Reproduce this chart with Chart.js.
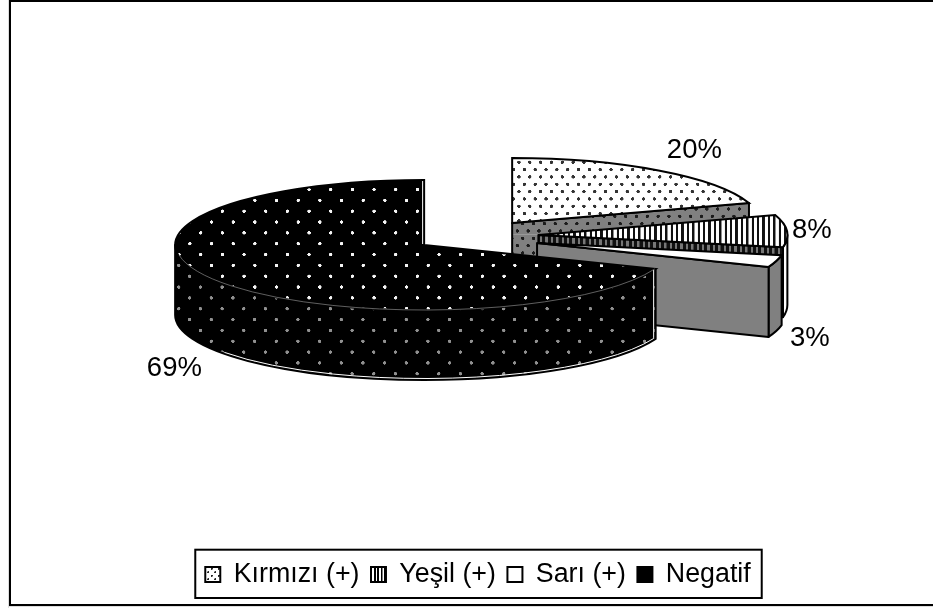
<!DOCTYPE html>
<html lang="tr">
<head>
  <meta charset="UTF-8" />
  <title>Pasta grafik</title>
  <script src="https://cdn.jsdelivr.net/npm/chart.js"></script>
  <style>
    html, body { margin: 0; background: #fff; }
    canvas { display: block; }
  </style>
</head>
<body>
  <canvas id="pie" width="933" height="608"></canvas>

  <script>
    const categories = ["Kırmızı (+)", "Yeşil (+)", "Sarı (+)", "Negatif"];
    const percents = [20, 8, 3, 69];
    const percentLabels = ["20%", "8%", "3%", "69%"];

    // layout of the tilted pie
    const FONT = "Liberation Sans, Arial, sans-serif";
    const LABEL_SIZE = 27.5;
    const LEGEND_SIZE = 26.8;
    const centre = { x: 476, y: 236 };
    const radius = 249;
    const squash = 0.261;
    const explode = 61.5;
    const depth = 70;
    const sliceShift = [[0, 0], [1, 0], [2, 2.5], [-1, 0]];
    const labelRadius = [310, 274, 284, 302];
    const labelNudge = [-7, 0, 4.5, 9];

    // tiles are painted at a higher resolution and scaled back, so the
    // spacing can be fractional. tilted ones undo the squash of the top face
    function makePattern(w, h, res, paint, tilted) {
      const c = document.createElement("canvas");
      c.width = Math.round(w * res); c.height = Math.round(h * res);
      const g = c.getContext("2d");
      g.scale(res, res);
      paint(g, w, h);
      const p = g.createPattern(c, "repeat");
      let m = new DOMMatrix().scale(1 / res, 1 / res);
      if (tilted) m = new DOMMatrix().scale(1, 1 / squash).multiply(m);
      p.setTransform(m);
      return p;
    }
    function dots(bg, fg, r) {
      return (g, w, h) => {
        g.fillStyle = bg; g.fillRect(0, 0, w, h);
        g.fillStyle = fg;
        [[w / 4, h / 4], [3 * w / 4, 3 * h / 4]].forEach(([x, y]) => {
          g.beginPath(); g.arc(x, y, r, 0, Math.PI * 2); g.fill();
        });
      };
    }
    function stripes(bg, fg, bar) {
      return (g, w, h) => {
        g.fillStyle = bg; g.fillRect(0, 0, w, h);
        g.fillStyle = fg; g.fillRect(0, 0, bar, h);
      };
    }

    const topFills = [
      makePattern(10.83, 14.6, 6, dots("#fff", "#333", 1.7), true),
      makePattern(5.4, 6, 5, stripes("#fff", "#111", 2.3), true),
      "#fff",
      makePattern(21.67, 21.67, 6, dots("#000", "#f4f4f4", 1.7), true)
    ];
    const faceFills = [
      makePattern(10.83, 14.6, 6, dots("#808080", "#1c1c1c", 1.7)),
      makePattern(5.4, 6, 5, stripes("#111", "#777", 2.3)),
      "#808080",
      makePattern(21.67, 21.67, 6, dots("#000", "#909090", 1.7))
    ];
    const rimFills = [faceFills[0], "#fff", faceFills[2], faceFills[3]];
    const legendFills = [
      makePattern(7, 7, 4, dots("#fff", "#222", 1)),
      makePattern(3.4, 4, 5, stripes("#fff", "#000", 1.7)),
      "#fff",
      makePattern(14, 14, 4, dots("#000", "#000", 0.5))
    ];

    function apexOf(arc, index) {
      const mid = (arc.startAngle + arc.endAngle) / 2;
      return {
        x: centre.x + explode * Math.cos(mid) + sliceShift[index][0],
        y: centre.y + explode * Math.sin(mid) * squash + sliceShift[index][1]
      };
    }

    // side walls: the radial face and the rim that look at the viewer
    function drawWalls(ctx, arc, index) {
      const a = apexOf(arc, index), ry = radius * squash;
      const s = Math.max(arc.startAngle, 0), e = Math.min(arc.endAngle, Math.PI);
      ctx.save();
      ctx.strokeStyle = "#000";
      ctx.lineWidth = 2;
      ctx.lineJoin = "round";
      if (e > s) {
        ctx.fillStyle = rimFills[index];
        ctx.beginPath();
        ctx.ellipse(a.x, a.y, radius, ry, 0, s, e);
        ctx.ellipse(a.x, a.y + depth, radius, ry, 0, e, s, true);
        ctx.closePath();
        ctx.fill(); ctx.stroke();
      }
      if (Math.cos(arc.endAngle) > 0.01) {
        const ex = a.x + radius * Math.cos(arc.endAngle);
        const ey = a.y + ry * Math.sin(arc.endAngle);
        ctx.fillStyle = faceFills[index];
        ctx.beginPath();
        ctx.moveTo(a.x, a.y);
        ctx.lineTo(ex, ey);
        ctx.lineTo(ex, ey + depth);
        ctx.lineTo(a.x, a.y + depth);
        ctx.closePath();
        ctx.fill(); ctx.stroke();
      }
      ctx.restore();
    }

    // the black slice only shows its edges as thin light lines
    function drawHighlights(ctx, arc, index) {
      const a = apexOf(arc, index), ry = radius * squash;
      const s = arc.startAngle;
      const sx = a.x + radius * Math.cos(s), sy = a.y + ry * Math.sin(s);
      ctx.save();
      ctx.strokeStyle = "#fff";
      ctx.lineWidth = 1;
      ctx.beginPath();
      ctx.moveTo(sx - 2, sy + 1);
      ctx.lineTo(sx - 2, sy + depth - 1);
      ctx.ellipse(a.x, a.y + depth, radius - 2, ry - 1.5, 0, s, Math.PI * 0.8);
      ctx.moveTo(a.x - 1.5, a.y - ry + 1);
      ctx.lineTo(a.x - 1.5, a.y - 1);
      ctx.stroke();
      ctx.strokeStyle = "#888";
      ctx.lineWidth = 0.7;
      ctx.beginPath();
      ctx.ellipse(a.x, a.y, radius - 1, ry, 0, s, Math.PI * 0.95);
      ctx.stroke();
      ctx.restore();
    }

    const tiltedPie = {
      id: "tiltedPie",
      afterDatasetsUpdate(chart) {
        chart.getDatasetMeta(0).data.forEach((arc, i) => {
          if (arc.tilted) return;
          arc.tilted = true;
          const flatDraw = arc.draw;
          arc.draw = function (ctx, area) {
            const a = apexOf(this, i);
            drawWalls(ctx, this, i);
            ctx.save();
            ctx.translate(a.x, a.y);
            ctx.scale(1, squash);
            ctx.translate(-this.x, -this.y);
            flatDraw.call(this, ctx, area);
            ctx.restore();
            // outline is stroked flat so the pen is not squashed
            ctx.save();
            ctx.beginPath();
            ctx.moveTo(a.x, a.y);
            ctx.ellipse(a.x, a.y, radius, radius * squash, 0, this.startAngle, this.endAngle);
            ctx.closePath();
            ctx.strokeStyle = "#000";
            ctx.lineWidth = 2;
            ctx.stroke();
            ctx.restore();
            if (i === categories.length - 1) drawHighlights(ctx, this, i);
          };
        });
      },
      afterDatasetsDraw(chart) {
        const { ctx } = chart;
        ctx.save();
        ctx.fillStyle = "#000";
        ctx.font = LABEL_SIZE + "px " + FONT;
        ctx.textAlign = "center";
        ctx.textBaseline = "middle";
        chart.getDatasetMeta(0).data.forEach((arc, i) => {
          const a = apexOf(arc, i);
          const mid = (arc.startAngle + arc.endAngle) / 2;
          const lower = Math.sin(mid) > 0.2 ? depth : 0;
          ctx.fillText(percentLabels[i],
            a.x + labelRadius[i] * Math.cos(mid),
            a.y + labelRadius[i] * squash * Math.sin(mid) + lower + labelNudge[i]);
        });
        ctx.restore();
      }
    };

    // outer frame (open on the right) and the box round the legend
    const frames = {
      id: "frames",
      afterDraw(chart) {
        const { ctx, legend } = chart;
        const boxes = legend.legendHitBoxes;
        const last = boxes[boxes.length - 1];
        const left = boxes[0].left - 10;
        const right = last.left + last.width + 11;
        ctx.save();
        ctx.fillStyle = "#ddd";
        ctx.fillRect(8, 0, 1, 608);
        ctx.fillRect(8, 606, 925, 1);
        ctx.strokeStyle = "#000";
        ctx.lineWidth = 2;
        ctx.strokeRect(10, 1, 1000, 604);
        ctx.strokeRect(left, legend.top, right - left, legend.height);
        ctx.restore();
      }
    };

    new Chart(document.getElementById("pie"), {
      type: "pie",
      data: {
        labels: categories,
        datasets: [{
          data: percents,
          backgroundColor: topFills,
          borderWidth: 0,
          clip: false
        }]
      },
      options: {
        responsive: false,
        animation: false,
        devicePixelRatio: 1,
        radius: radius,
        layout: { padding: { left: 23, bottom: 10 } },
        plugins: {
          tooltip: { enabled: false },
          legend: {
            position: "bottom",
            labels: {
              color: "#000",
              font: { family: FONT, size: LEGEND_SIZE, lineHeight: 0.93 },
              boxWidth: 15,
              boxHeight: 15,
              padding: 11.5,
              generateLabels(chart) {
                const items = Chart.overrides.pie.plugins.legend.labels.generateLabels(chart);
                items.forEach((item, i) => {
                  item.fillStyle = legendFills[i];
                  item.strokeStyle = "#000";
                  item.lineWidth = 2;
                });
                return items;
              }
            }
          }
        }
      },
      plugins: [tiltedPie, frames]
    });
  </script>
</body>
</html>
